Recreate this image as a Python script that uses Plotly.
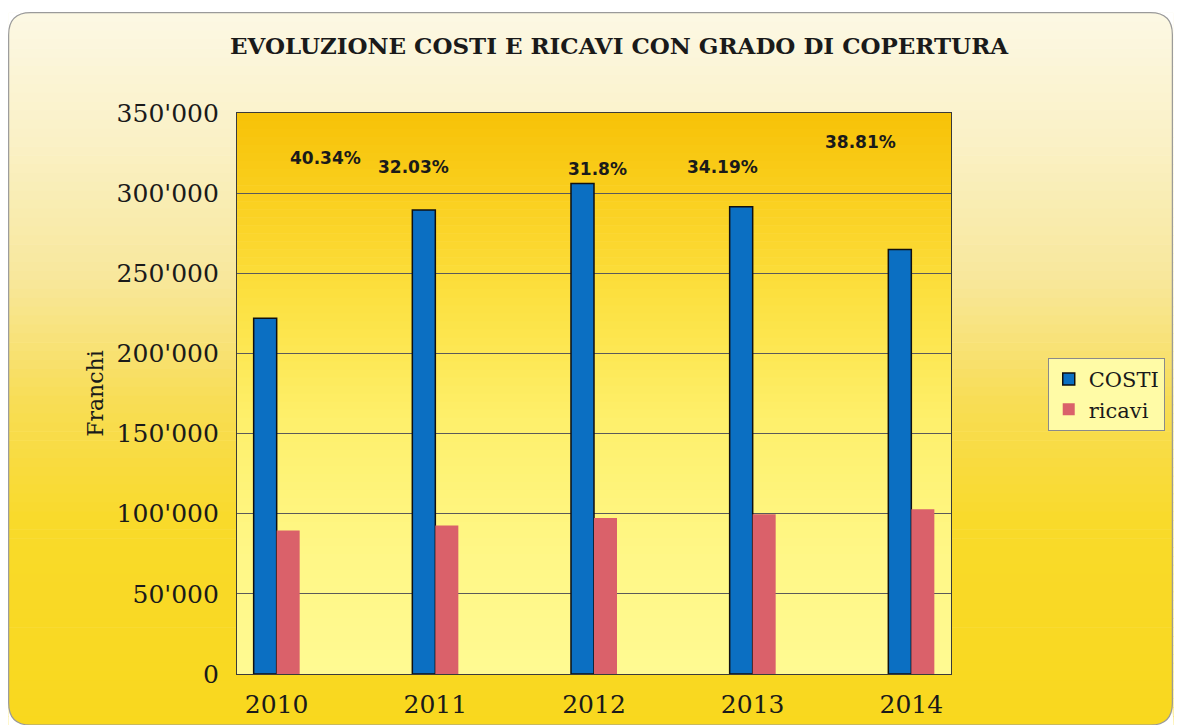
import plotly.graph_objects as go

# ---- data ----
anni = ["2010", "2011", "2012", "2013", "2014"]
costi = [222000, 289500, 306000, 291500, 264800]
ricavi = [89600, 92700, 97300, 99700, 102800]
copertura = ["40.34%", "32.03%", "31.8%", "34.19%", "38.81%"]
y_tickvals = [0, 50000, 100000, 150000, 200000, 250000, 300000, 350000]
y_ticktext = ["0", "50'000", "100'000", "150'000", "200'000", "250'000", "300'000", "350'000"]

# label placement (category units / value units)
lab_x = [0.31, 0.86, 2.02, 2.81, 3.68]
lab_y = [322000, 316500, 315000, 316500, 332000]

# target layout in picture pixels (1177 x 725); the page is taller by a few px, compensate
SY = 731 / 725
W, H = 1177, 731
PL, PR, PT, PB = 237, 953, 112, 671          # plot area in picture pixels
L, R = PL, W - PR
T = round(PT * SY)
B = H - T - round((PB - PT) * SY)
PW, PH = PR - PL, PB - PT


def px(x):
    return (x - PL) / PW


def py(y):
    return (PB - y) / PH


def hex2rgb(h):
    h = h.lstrip("#")
    return tuple(int(h[i:i + 2], 16) for i in (0, 2, 4))


def interp(stops, y):
    for (y0, c0), (y1, c1) in zip(stops, stops[1:]):
        if y0 <= y <= y1:
            t = (y - y0) / (y1 - y0) if y1 > y0 else 0
            a, b = hex2rgb(c0), hex2rgb(c1)
            return "rgb(%d,%d,%d)" % tuple(round(a[i] + (b[i] - a[i]) * t) for i in range(3))
    return stops[-1][1]


shapes = []
# outer card gradient
outer_stops = [(12, "#FCF8E4"), (140, "#FAF1C6"), (280, "#F8E79A"), (400, "#F8DD55"),
               (520, "#F9DA2A"), (725, "#F9D81E")]
n = 80
y_top, y_bot = 12, 722
for i in range(n):
    a = y_top + (y_bot - y_top) * i / n
    b = y_top + (y_bot - y_top) * (i + 1) / n
    shapes.append(dict(type="rect", xref="paper", yref="paper", layer="below",
                       x0=px(8), x1=px(1176), y0=py(a), y1=py(b + 0.6),
                       fillcolor=interp(outer_stops, (a + b) / 2), line=dict(width=0)))

# plot area gradient
plot_stops = [(112, "#F7C208"), (200, "#FAD020"), (300, "#FCE142"), (420, "#FEF06C"),
              (550, "#FFF786"), (671, "#FFFA92")]
n2 = 70
for i in range(n2):
    a = 112 + (671 - 112) * i / n2
    b = 112 + (671 - 112) * (i + 1) / n2
    shapes.append(dict(type="rect", xref="paper", yref="paper", layer="below",
                       x0=0, x1=1, y0=py(a), y1=py(b + 0.6),
                       fillcolor=interp(plot_stops, (a + b) / 2), line=dict(width=0)))

# rounded corners (white masks) and card border
r = 22
x0c, y0c, x1c, y1c = 8, 12, 1175, 722


def P(x, y):
    return "%f,%f" % (px(x), py(y))


corners = [
    "M %s L %s Q %s %s Z" % (P(x0c, y0c), P(x0c + r, y0c), P(x0c, y0c), P(x0c, y0c + r)),
    "M %s L %s Q %s %s Z" % (P(x1c + 1, y0c), P(x1c - r, y0c), P(x1c, y0c), P(x1c, y0c + r)),
    "M %s L %s Q %s %s Z" % (P(x0c, y1c), P(x0c + r, y1c), P(x0c, y1c), P(x0c, y1c - r)),
    "M %s L %s Q %s %s Z" % (P(x1c + 1, y1c), P(x1c - r, y1c), P(x1c, y1c), P(x1c, y1c - r)),
]
for c in corners:
    shapes.append(dict(type="path", xref="paper", yref="paper", layer="below", path=c,
                       fillcolor="white", line=dict(width=0)))
border = ("M %s L %s Q %s %s L %s Q %s %s L %s Q %s %s L %s Q %s %s Z" % (
    P(x0c + r, y0c), P(x1c - r, y0c), P(x1c, y0c), P(x1c, y0c + r),
    P(x1c, y1c - r), P(x1c, y1c), P(x1c - r, y1c),
    P(x0c + r, y1c), P(x0c, y1c), P(x0c, y1c - r),
    P(x0c, y0c + r), P(x0c, y0c), P(x0c + r, y0c)))
shapes.append(dict(type="path", xref="paper", yref="paper", layer="below", path=border,
                   line=dict(color="#9A9A9A", width=1.2)))

fig = go.Figure()
fig.add_trace(go.Bar(name="COSTI", x=anni, y=costi,
                     marker=dict(color="#0B6FC2", line=dict(color="#101010", width=1.5))))
fig.add_trace(go.Bar(name="ricavi", x=anni, y=ricavi,
                     marker=dict(color="#DA616A", line=dict(color="#DA616A", width=0))))

annotations = []
for t, xx, yy in zip(copertura, lab_x, lab_y):
    annotations.append(dict(x=xx, y=yy, xref="x", yref="y", text=t, showarrow=False,
                            font=dict(family="DejaVu Sans", size=17, color="#1A1A1A", weight="bold")))
annotations.append(dict(x=px(621), y=py(45), xref="paper", yref="paper",
                        text="<b>EVOLUZIONE COSTI E RICAVI CON GRADO DI COPERTURA</b>",
                        showarrow=False, xanchor="center", yanchor="middle",
                        font=dict(family="DejaVu Serif", size=23, color="#1A1A1A")))

fig.update_layout(
    width=W, height=H,
    autosize=False,
    margin=dict(l=L, r=R, t=T, b=B, pad=0),
    paper_bgcolor="white",
    plot_bgcolor="rgba(0,0,0,0)",
    barmode="group",
    bargap=0.71,
    bargroupgap=0,
    shapes=shapes,
    annotations=annotations,
    showlegend=True,
    legend=dict(x=px(1050), y=py(356), xanchor="left", yanchor="top",
                bgcolor="#FFFBA6", bordercolor="#8A8A8A", borderwidth=1,
                font=dict(family="DejaVu Serif", size=21, color="#1A1A1A"),
                tracegroupgap=0),
    font=dict(family="DejaVu Serif", color="#1A1A1A"),
)
fig.update_xaxes(type="category", range=[-0.25, 4.25], showgrid=False,
                 showline=True, linecolor="#3A3A3A", linewidth=1.2, mirror=True,
                 ticks="outside", ticklen=8, tickcolor="rgba(0,0,0,0)",
                 tickfont=dict(family="DejaVu Serif", size=25, color="#1A1A1A"))
fig.update_yaxes(range=[0, 350000], tickvals=y_tickvals, ticktext=y_ticktext,
                 showgrid=True, gridcolor="#5A5A5A", gridwidth=1,
                 showline=True, linecolor="#3A3A3A", linewidth=1.2, mirror=True,
                 ticks="outside", ticklen=12, tickcolor="rgba(0,0,0,0)",
                 tickfont=dict(family="DejaVu Serif", size=25, color="#1A1A1A"),
                 zeroline=False,
                 title=dict(text="Franchi", standoff=6,
                            font=dict(family="DejaVu Serif", size=22, color="#1A1A1A")))

post = (
    "var gd=document.getElementById('{plot_id}');"
    "document.documentElement.style.margin='0';document.body.style.margin='0';"
    "document.documentElement.style.overflow='hidden';document.body.style.overflow='hidden';"
    "gd.style.position='fixed';gd.style.left='0px';gd.style.top='0px';"
)
fig.write_html("out.html", config={"displayModeBar": False, "responsive": False},
               post_script=post)
